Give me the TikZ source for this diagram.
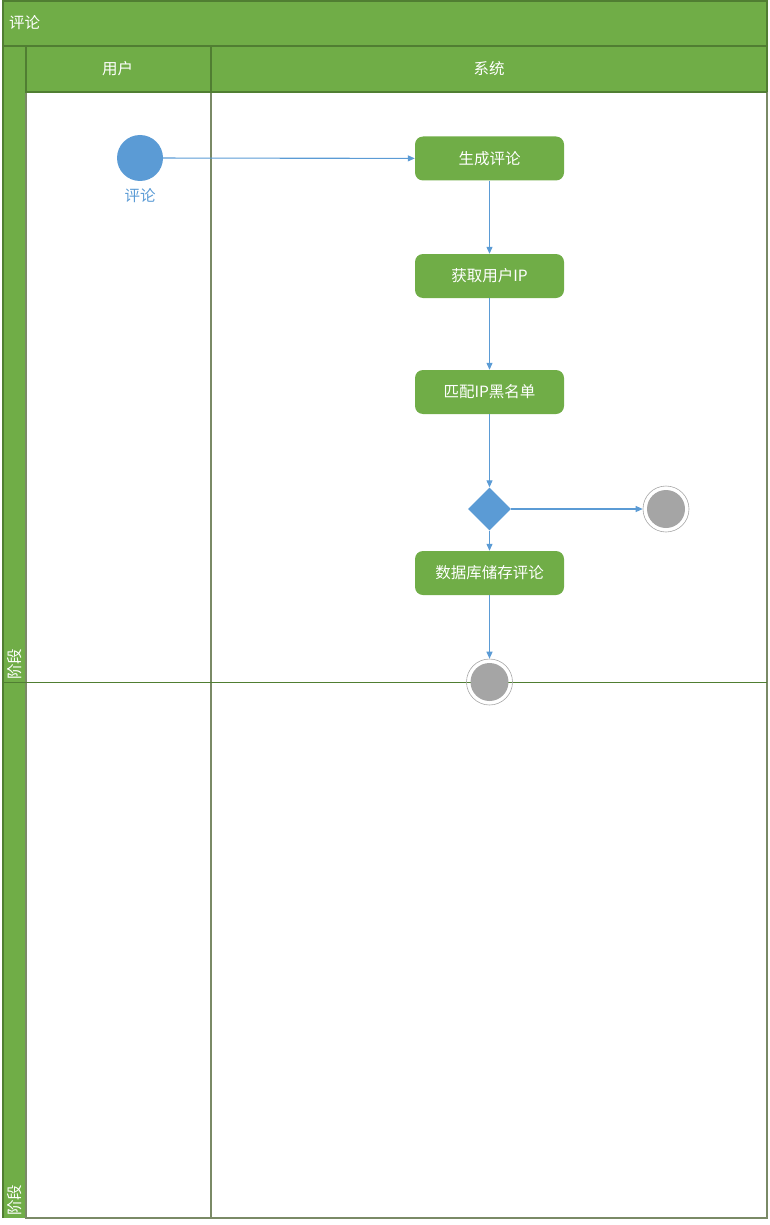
\documentclass[tikz,border=0pt]{standalone}
\usepackage{fontspec}
\setmainfont{Noto Sans CJK SC}
\usepackage{xcolor}
\usetikzlibrary{positioning, shapes.geometric, arrows.meta}

\definecolor{lanegreen}{HTML}{70AD47}
\definecolor{edgegreen}{HTML}{507E32}
\definecolor{laneline}{HTML}{7A8A66}
\definecolor{flowblue}{HTML}{5B9BD5}
\definecolor{endgray}{HTML}{A5A5A5}

\begin{document}
\begin{tikzpicture}[x=1pt, y=-1pt, font=\fontsize{15.5}{18}\selectfont,
    action/.style={rectangle, rounded corners=8pt, fill=lanegreen, text=white, minimum width=149pt, minimum height=44pt, inner sep=0pt},
    final/.style={circle, minimum size=46pt, inner sep=0pt, draw=endgray, line width=0.6pt, path picture={\fill[endgray] (path picture bounding box.center) circle (19pt);}},
    flow/.style={-{Triangle[length=7pt, width=6pt]}, draw=flowblue, line width=1.1pt},
    headtext/.style={text=white, inner sep=1pt}]
    \useasboundingbox (0,0) rectangle (769,1225);

    % lanes
    \fill[lanegreen] (3,1) rectangle (767,46);
    \fill[lanegreen] (3,46) rectangle (26,1218);
    \fill[lanegreen] (26,46) rectangle (767,92);
    \draw[laneline, line width=1.5pt] (26,92) -- (26,1218) -- (767,1218) -- (767,92);
    \draw[laneline, line width=1.5pt] (211,92) -- (211,1218);
    \draw[edgegreen, line width=1.5pt] (3,1218) -- (3,1) -- (767,1) -- (767,92);
    \draw[edgegreen, line width=1.5pt] (3,46) -- (767,46);
    \draw[edgegreen, line width=1.5pt] (26,46) -- (26,92) -- (767,92);
    \draw[edgegreen, line width=1.5pt] (211,46) -- (211,92);
    \draw[edgegreen, line width=1pt] (3,682) -- (767,682);

    \node[headtext, anchor=west] (title) at (8,23) {评论};
    \node[headtext] (user) at (117.5,69) {用户};
    \node[headtext] (system) at (489,69) {系统};
    \node[headtext, rotate=90, anchor=west] (stageA) at (14.5,681) {阶段};
    \node[headtext, rotate=90, anchor=west] (stageB) at (14.5,1217) {阶段};

    % flow
    \node[circle, fill=flowblue, minimum size=46pt, inner sep=0pt, label={[text=flowblue, label distance=4pt]-90:评论}] (start) at (140,158) {};
    \node[action] (make) at (489.5,158.5) {生成评论};
    \node[action] (getip) at (489.5,276) {获取用户IP};
    \node[action] (match) at (489.5,392) {匹配IP黑名单};
    \node[diamond, fill=flowblue, minimum width=43pt, minimum height=43pt, inner sep=0pt] (check) at (489.5,509) {};
    \node[final] (stop) at (666,509) {};
    \node[action] (store) at (489.5,573) {数据库储存评论};
    \node[final] (done) at (489.5,682) {};

    \draw[flow] (start) -- (make);
    \draw[flow] (make) -- (getip);
    \draw[flow] (getip) -- (match);
    \draw[flow] (match) -- (check);
    \draw[flow] (check) -- (stop);
    \draw[flow] (check) -- (store);
    \draw[flow] (store) -- (done);
\end{tikzpicture}
\end{document}
